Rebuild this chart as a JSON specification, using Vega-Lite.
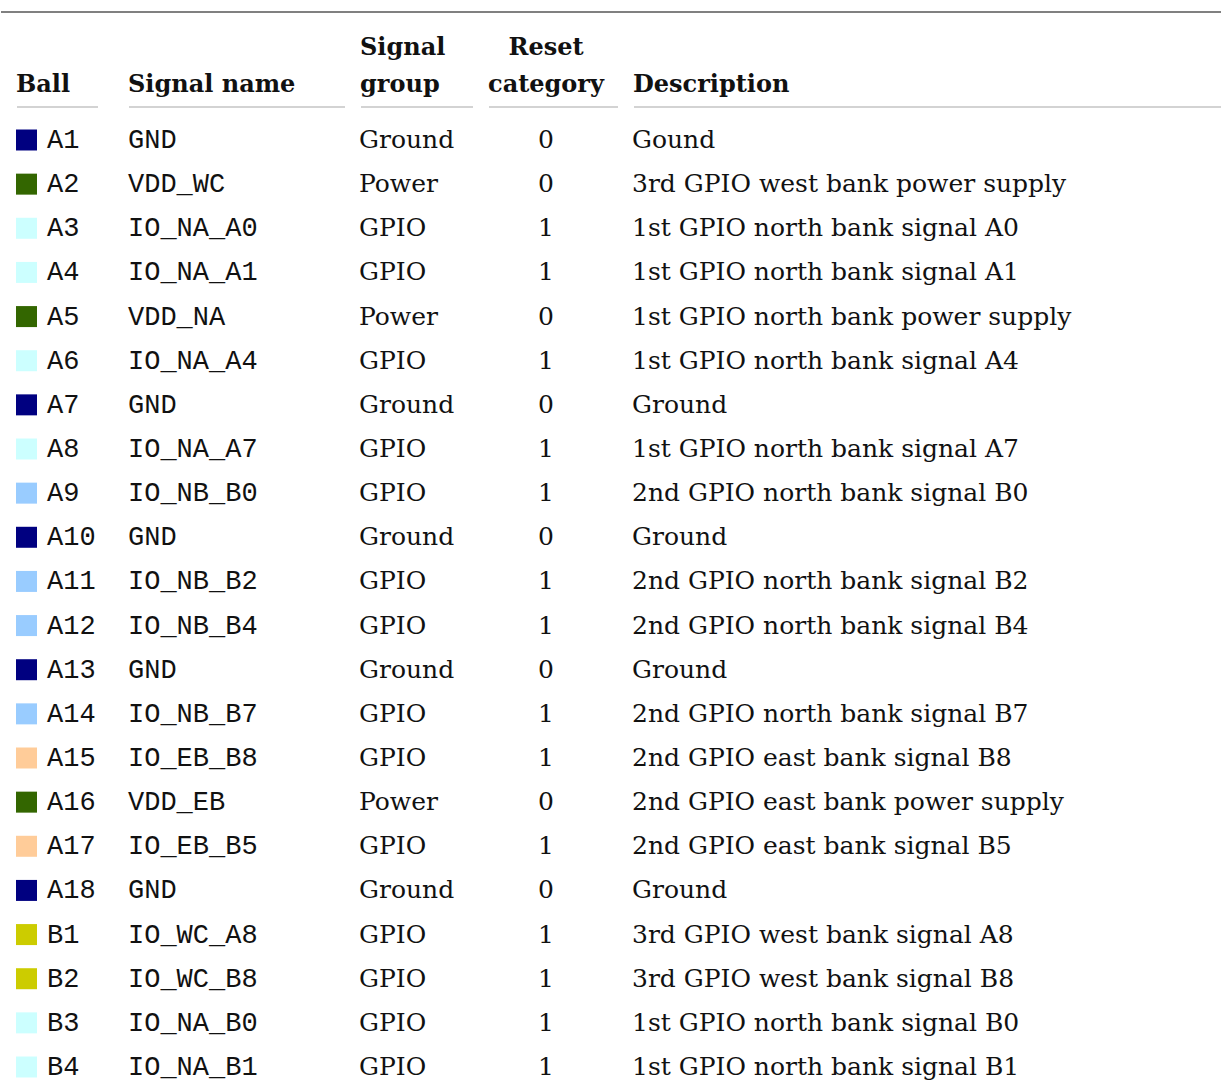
{
  "$schema": "https://vega.github.io/schema/vega-lite/v6.json",
  "autosize": {"type": "fit", "contains": "padding"},
  "width": 1221,
  "height": 1085,
  "padding": 0,
  "background": "white",
  "config": {"view": {"stroke": null}},
  "datasets": {
    "rows": [
      {"ball": "A1", "signal": "GND", "group": "Ground", "reset": "0", "desc": "Gound", "bank": "Ground"},
      {"ball": "A2", "signal": "VDD_WC", "group": "Power", "reset": "0", "desc": "3rd GPIO west bank power supply", "bank": "Power"},
      {"ball": "A3", "signal": "IO_NA_A0", "group": "GPIO", "reset": "1", "desc": "1st GPIO north bank signal A0", "bank": "NA"},
      {"ball": "A4", "signal": "IO_NA_A1", "group": "GPIO", "reset": "1", "desc": "1st GPIO north bank signal A1", "bank": "NA"},
      {"ball": "A5", "signal": "VDD_NA", "group": "Power", "reset": "0", "desc": "1st GPIO north bank power supply", "bank": "Power"},
      {"ball": "A6", "signal": "IO_NA_A4", "group": "GPIO", "reset": "1", "desc": "1st GPIO north bank signal A4", "bank": "NA"},
      {"ball": "A7", "signal": "GND", "group": "Ground", "reset": "0", "desc": "Ground", "bank": "Ground"},
      {"ball": "A8", "signal": "IO_NA_A7", "group": "GPIO", "reset": "1", "desc": "1st GPIO north bank signal A7", "bank": "NA"},
      {"ball": "A9", "signal": "IO_NB_B0", "group": "GPIO", "reset": "1", "desc": "2nd GPIO north bank signal B0", "bank": "NB"},
      {"ball": "A10", "signal": "GND", "group": "Ground", "reset": "0", "desc": "Ground", "bank": "Ground"},
      {"ball": "A11", "signal": "IO_NB_B2", "group": "GPIO", "reset": "1", "desc": "2nd GPIO north bank signal B2", "bank": "NB"},
      {"ball": "A12", "signal": "IO_NB_B4", "group": "GPIO", "reset": "1", "desc": "2nd GPIO north bank signal B4", "bank": "NB"},
      {"ball": "A13", "signal": "GND", "group": "Ground", "reset": "0", "desc": "Ground", "bank": "Ground"},
      {"ball": "A14", "signal": "IO_NB_B7", "group": "GPIO", "reset": "1", "desc": "2nd GPIO north bank signal B7", "bank": "NB"},
      {"ball": "A15", "signal": "IO_EB_B8", "group": "GPIO", "reset": "1", "desc": "2nd GPIO east bank signal B8", "bank": "EB"},
      {"ball": "A16", "signal": "VDD_EB", "group": "Power", "reset": "0", "desc": "2nd GPIO east bank power supply", "bank": "Power"},
      {"ball": "A17", "signal": "IO_EB_B5", "group": "GPIO", "reset": "1", "desc": "2nd GPIO east bank signal B5", "bank": "EB"},
      {"ball": "A18", "signal": "GND", "group": "Ground", "reset": "0", "desc": "Ground", "bank": "Ground"},
      {"ball": "B1", "signal": "IO_WC_A8", "group": "GPIO", "reset": "1", "desc": "3rd GPIO west bank signal A8", "bank": "WC"},
      {"ball": "B2", "signal": "IO_WC_B8", "group": "GPIO", "reset": "1", "desc": "3rd GPIO west bank signal B8", "bank": "WC"},
      {"ball": "B3", "signal": "IO_NA_B0", "group": "GPIO", "reset": "1", "desc": "1st GPIO north bank signal B0", "bank": "NA"},
      {"ball": "B4", "signal": "IO_NA_B1", "group": "GPIO", "reset": "1", "desc": "1st GPIO north bank signal B1", "bank": "NA"}
    ]
  },
  "layer": [
    {
      "data": {"values": [{}]},
      "mark": {"type": "rule", "stroke": "#808080", "strokeWidth": 2},
      "encoding": {"x": {"value": 0}, "x2": {"value": 1221}, "y": {"value": 12}}
    },
    {
      "data": {"values": [{}]},
      "mark": {"type": "rule", "stroke": "#a8a8a8", "strokeWidth": 1.2},
      "encoding": {"x": {"value": 16}, "x2": {"value": 97}, "y": {"value": 107}}
    },
    {
      "data": {"values": [{}]},
      "mark": {"type": "rule", "stroke": "#a8a8a8", "strokeWidth": 1.2},
      "encoding": {"x": {"value": 128}, "x2": {"value": 344}, "y": {"value": 107}}
    },
    {
      "data": {"values": [{}]},
      "mark": {"type": "rule", "stroke": "#a8a8a8", "strokeWidth": 1.2},
      "encoding": {"x": {"value": 360}, "x2": {"value": 472}, "y": {"value": 107}}
    },
    {
      "data": {"values": [{}]},
      "mark": {"type": "rule", "stroke": "#a8a8a8", "strokeWidth": 1.2},
      "encoding": {"x": {"value": 488}, "x2": {"value": 617}, "y": {"value": 107}}
    },
    {
      "data": {"values": [{}]},
      "mark": {"type": "rule", "stroke": "#a8a8a8", "strokeWidth": 1.2},
      "encoding": {"x": {"value": 633}, "x2": {"value": 1221}, "y": {"value": 107}}
    },
    {
      "data": {"values": [{"label": "Ball"}]},
      "mark": {"type": "text", "x": 15, "y": 92, "align": "left", "baseline": "alphabetic", "font": "DejaVu Serif", "fontWeight": "bold", "fontSize": 24, "color": "#111"},
      "encoding": {"text": {"field": "label"}}
    },
    {
      "data": {"values": [{"label": "Signal name"}]},
      "mark": {"type": "text", "x": 127, "y": 92, "align": "left", "baseline": "alphabetic", "font": "DejaVu Serif", "fontWeight": "bold", "fontSize": 24, "color": "#111"},
      "encoding": {"text": {"field": "label"}}
    },
    {
      "data": {"values": [{"label": "Signal\ngroup"}]},
      "mark": {"type": "text", "x": 359, "y": 55, "align": "left", "baseline": "alphabetic", "lineBreak": "\n", "lineHeight": 37, "font": "DejaVu Serif", "fontWeight": "bold", "fontSize": 24, "color": "#111"},
      "encoding": {"text": {"field": "label"}}
    },
    {
      "data": {"values": [{"label": "Reset\ncategory"}]},
      "mark": {"type": "text", "x": 545, "y": 55, "align": "center", "baseline": "alphabetic", "lineBreak": "\n", "lineHeight": 37, "font": "DejaVu Serif", "fontWeight": "bold", "fontSize": 24, "color": "#111"},
      "encoding": {"text": {"field": "label"}}
    },
    {
      "data": {"values": [{"label": "Description"}]},
      "mark": {"type": "text", "x": 632, "y": 92, "align": "left", "baseline": "alphabetic", "font": "DejaVu Serif", "fontWeight": "bold", "fontSize": 24, "color": "#111"},
      "encoding": {"text": {"field": "label"}}
    },
    {
      "data": {"name": "rows"},
      "mark": {"type": "square", "x": 25.5, "size": 441, "filled": true, "opacity": 1},
      "encoding": {
        "y": {"field": "ball", "type": "nominal", "sort": null, "scale": {"type": "point", "range": [140, 1067], "padding": 0}, "axis": null},
        "color": {"field": "bank", "type": "nominal", "legend": null, "scale": {"domain": ["Ground", "Power", "NA", "NB", "EB", "WC"], "range": ["#000080", "#336600", "#ccffff", "#99ccff", "#ffcc99", "#cccc00"]}}
      }
    },
    {
      "data": {"name": "rows"},
      "mark": {"type": "text", "x": 46, "align": "left", "baseline": "middle", "font": "Liberation Mono", "fontSize": 27, "color": "#111"},
      "encoding": {
        "y": {"field": "ball", "type": "nominal", "sort": null, "scale": {"type": "point", "range": [140, 1067], "padding": 0}, "axis": null},
        "text": {"field": "ball"}
      }
    },
    {
      "data": {"name": "rows"},
      "mark": {"type": "text", "x": 127, "align": "left", "baseline": "middle", "font": "Liberation Mono", "fontSize": 27, "color": "#111"},
      "encoding": {
        "y": {"field": "ball", "type": "nominal", "sort": null, "scale": {"type": "point", "range": [140, 1067], "padding": 0}, "axis": null},
        "text": {"field": "signal"}
      }
    },
    {
      "data": {"name": "rows"},
      "mark": {"type": "text", "x": 358, "align": "left", "baseline": "middle", "font": "DejaVu Serif", "fontSize": 25, "color": "#111"},
      "encoding": {
        "y": {"field": "ball", "type": "nominal", "sort": null, "scale": {"type": "point", "range": [140, 1067], "padding": 0}, "axis": null},
        "text": {"field": "group"}
      }
    },
    {
      "data": {"name": "rows"},
      "mark": {"type": "text", "x": 545, "align": "center", "baseline": "middle", "font": "DejaVu Serif", "fontSize": 25, "color": "#111"},
      "encoding": {
        "y": {"field": "ball", "type": "nominal", "sort": null, "scale": {"type": "point", "range": [140, 1067], "padding": 0}, "axis": null},
        "text": {"field": "reset"}
      }
    },
    {
      "data": {"name": "rows"},
      "mark": {"type": "text", "x": 631, "align": "left", "baseline": "middle", "font": "DejaVu Serif", "fontSize": 25, "color": "#111"},
      "encoding": {
        "y": {"field": "ball", "type": "nominal", "sort": null, "scale": {"type": "point", "range": [140, 1067], "padding": 0}, "axis": null},
        "text": {"field": "desc"}
      }
    }
  ]
}
